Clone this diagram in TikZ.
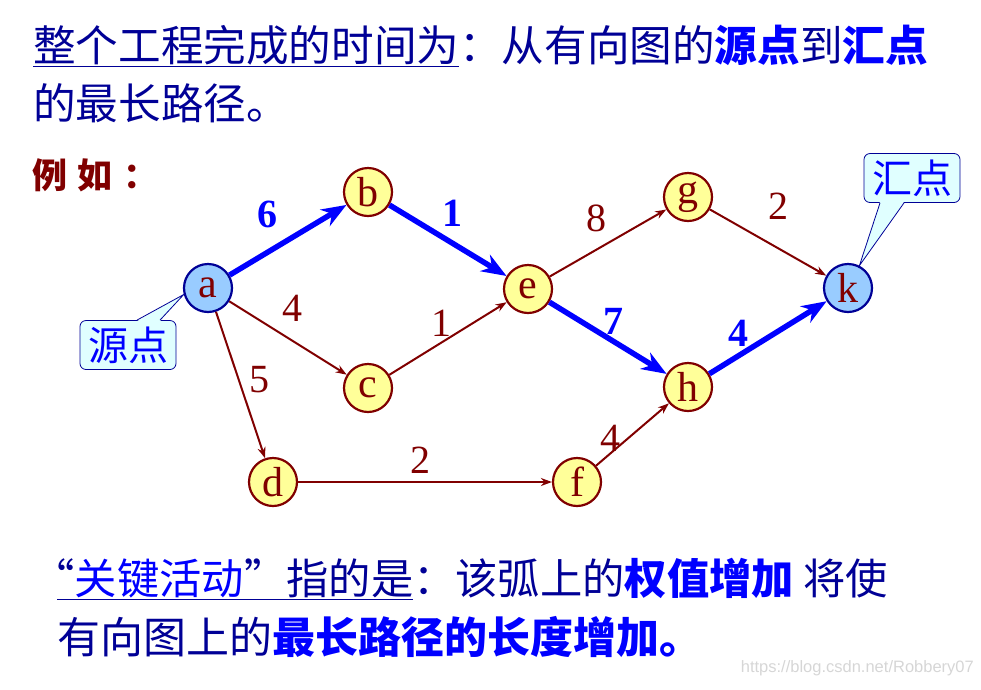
\documentclass[tikz,border=0pt]{standalone}
\usepackage{fontspec}
\setmainfont{Liberation Serif}
\newfontfamily\cjk{Noto Sans CJK SC}
\newfontfamily\wmfont{Liberation Sans}
\usetikzlibrary{
  arrows.meta,
  positioning
}
\definecolor{navyink}{RGB}{0,0,150}
\definecolor{keyblue}{RGB}{0,0,255}
\definecolor{arcred}{RGB}{128,0,0}
\definecolor{vtxyellow}{RGB}{255,255,153}
\definecolor{endblue}{RGB}{153,204,255}
\definecolor{tipcyan}{RGB}{224,255,255}
\tikzset{
  vtx/.style     = {circle, draw=arcred, fill=vtxyellow, line width=2.2pt,
                    minimum size=48pt, inner sep=0pt, text=arcred,
                    font=\fontsize{42}{42}\selectfont},
  endvtx/.style  = {vtx, draw=navyink, fill=endblue},
  arc/.style     = {-{Stealth[length=11pt, width=8pt]}, arcred, line width=2pt},
  crit/.style    = {-{Stealth[length=25pt, width=19pt, inset=8pt]}, keyblue,
                    line width=5.5pt},
  wt/.style      = {text=arcred, inner sep=0pt, font=\fontsize{40}{40}\selectfont},
  cwt/.style     = {text=keyblue, inner sep=0pt,
                    font=\bfseries\fontsize{40}{40}\selectfont},
  tipbox/.style  = {draw=navyink, fill=tipcyan, rounded corners=6pt,
                    line width=0.8pt, minimum width=96pt, minimum height=49pt,
                    inner sep=1pt, text=keyblue,
                    font=\cjk\fontsize{40}{40}\selectfont},
  tipline/.style = {navyink, line width=0.8pt},
  line/.style    = {anchor=base west, inner sep=0pt, text=navyink,
                    font=\cjk\fontsize{42.6}{42.6}\selectfont},
}
\newcommand{\hl}[1]{{\bfseries\color{keyblue}#1}}

\begin{document}
\begin{tikzpicture}[x=1pt, y=-1pt]
    \useasboundingbox (0,0) rectangle (981,689);

    % Heading text
    \node[line] (title1) at (33,61)
        {\underline{整个工程完成的时间为}：从有向图的\hl{源点}到\hl{汇点}};
    \node[line] (title2) at (33,119) {的最长路径。};
    \node[line, text=arcred,
          font=\cjk\bfseries\fontsize{35}{35}\selectfont\addfontfeature{LetterSpace=30}]
        (example) at (32,188) {例如：};

    % Vertices
    \node[endvtx] (a) at (208,288) {a};
    \node[vtx]    (b) at (368,192) {b};
    \node[vtx]    (c) at (368,388) {c};
    \node[vtx]    (d) at (273,482) {d};
    \node[vtx]    (e) at (528,289) {e};
    \node[vtx]    (f) at (577,482) {f};
    \node[vtx]    (g) at (688,197) {g};
    \node[vtx]    (h) at (688,387) {h};
    \node[endvtx] (k) at (848,288) {k};

    % Ordinary activities
    \draw[arc] (a) -- (c);
    \draw[arc] (a) -- (d);
    \draw[arc] (c) -- (e);
    \draw[arc] (d) -- (f);
    \draw[arc] (e) -- (g);
    \draw[arc] (f) -- (h);
    \draw[arc] (g) -- (k);

    % Critical path
    \draw[crit] (a) -- (b);
    \draw[crit] (b) -- (e);
    \draw[crit] (e) -- (h);
    \draw[crit] (h) -- (k);

    % Weights
    \node[cwt] (wab) at (267,214) {6};
    \node[cwt] (wbe) at (452,213) {1};
    \node[wt]  (wac) at (292,308) {4};
    \node[wt]  (wad) at (259,380) {5};
    \node[wt]  (wce) at (441,323) {1};
    \node[wt]  (wdf) at (420,460) {2};
    \node[wt]  (weg) at (596,218) {8};
    \node[cwt] (weh) at (613,321) {7};
    \node[wt]  (wfh) at (610,438) {4};
    \node[wt]  (wgk) at (778,206) {2};
    \node[cwt] (whk) at (738,333) {4};

    % Callouts
    \node[tipbox] (srcbox) at (128,345) {源点};
    \fill[tipcyan] ([xshift=9pt, yshift=-1pt]srcbox.north) -- (a.195)
        -- ([xshift=32pt, yshift=-1pt]srcbox.north) -- cycle;
    \draw[tipline] ([xshift=9pt]srcbox.north) -- (a.195)
        -- ([xshift=32pt]srcbox.north);

    \node[tipbox] (sinkbox) at (912,178) {汇点};
    \fill[tipcyan] ([xshift=-32pt, yshift=1pt]sinkbox.south) -- (k.63)
        -- ([xshift=-8pt, yshift=1pt]sinkbox.south) -- cycle;
    \draw[tipline] ([xshift=-32pt]sinkbox.south) -- (k.63)
        -- ([xshift=-8pt]sinkbox.south);

    % Closing remark
    \node[line, font=\cjk\fontsize{42.3}{42.3}\selectfont] (note1) at (57,594)
        {\underline{\makebox[0.42em][r]{“}{\color{keyblue}关键活动}”指的是}：该弧上的\hl{权值增加} 将使};
    \node[line, font=\cjk\fontsize{43}{43}\selectfont] (note2) at (57,653)
        {有向图上的\hl{最长路径的长度增加。}};

    \node[anchor=east, inner sep=0pt, text=black!16,
          font=\wmfont\fontsize{16.5}{16.5}\selectfont]
        (mark) at (974,668) {https://blog.csdn.net/Robbery07};

\end{tikzpicture}
\end{document}
